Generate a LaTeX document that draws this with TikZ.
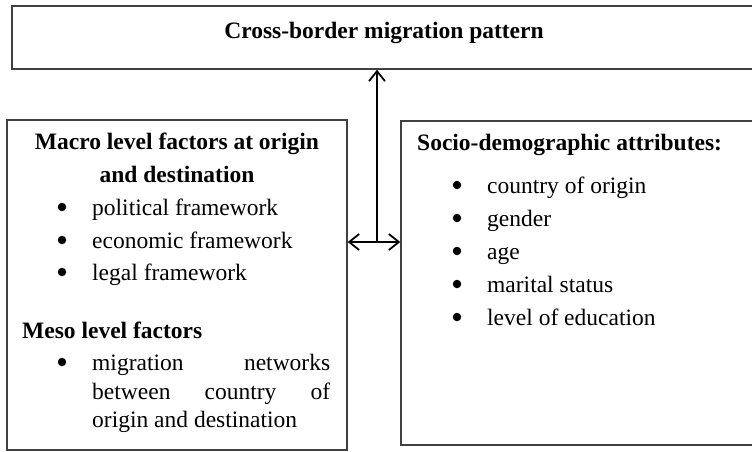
\documentclass[tikz,border=0pt]{standalone}
\usepackage{fontspec}
\setmainfont{Liberation Serif}
\usetikzlibrary{arrows.meta}

\tikzset{
  frame/.style={draw=black!75, line width=1.4pt, minimum width=#1},
  bodytext/.style={inner sep=0pt, anchor=base west, font=\fontsize{23.5}{28}\selectfont},
  headtext/.style={bodytext, font=\fontsize{23.5}{28}\selectfont\bfseries},
  dot/.style={circle, fill=black, inner sep=0pt, minimum size=8.5pt},
  link/.style={line width=1.8pt, black, {Straight Barb[length=10pt,width=16pt,line width=1.8pt]}-{Straight Barb[length=10pt,width=16pt,line width=1.8pt]}},
  uplink/.style={line width=1.8pt, black, -{Straight Barb[length=10pt,width=16pt,line width=1.8pt]}}
}

\begin{document}
\begin{tikzpicture}[x=1pt, y=-1pt]
\useasboundingbox (0,0) rectangle (752,452);
\clip (0,0) rectangle (752,452);
\fill[white] (0,0) rectangle (752,452);

% three frames
\node[frame=748pt, minimum height=63pt, inner sep=0pt] (top) at (386,37.5) {};
\node[frame=340pt, minimum height=330pt, inner sep=0pt] (left) at (177,285) {};
\node[frame=359pt, minimum height=324pt, inner sep=0pt] (right) at (580.5,283) {};

% title
\node[headtext, anchor=base] (title) at (384,39) {Cross-border migration pattern};

% left frame: macro and meso factors
\node[headtext, anchor=base] (macro1) at (177,149) {Macro level factors at origin};
\node[headtext, anchor=base] (macro2) at (177,182) {and destination};
\node[dot] (b1) at (62,207) {};
\node[bodytext] (pol) at (92,215) {political framework};
\node[dot] (b2) at (62,240) {};
\node[bodytext] (eco) at (92,248) {economic framework};
\node[dot] (b3) at (62,272) {};
\node[bodytext] (leg) at (92,280) {legal framework};
\node[headtext] (meso) at (22,338) {Meso level factors};
\node[dot] (b4) at (62,362) {};
\node[bodytext] (net1) at (92,370) {\makebox[238pt][s]{migration\hfill networks}};
\node[bodytext] (net2) at (92,399) {\makebox[238pt][s]{between\hfill country\hfill of}};
\node[bodytext] (net3) at (92,427) {origin and destination};

% right frame: socio-demographic attributes
\node[headtext] (socio) at (417,150) {Socio-demographic attributes:};
\node[dot] (r1) at (457,185) {};
\node[bodytext] (coo) at (487,193) {country of origin};
\node[dot] (r2) at (457,218) {};
\node[bodytext] (gen) at (487,226) {gender};
\node[dot] (r3) at (457,251) {};
\node[bodytext] (age) at (487,259) {age};
\node[dot] (r4) at (457,284) {};
\node[bodytext] (mar) at (487,292) {marital status};
\node[dot] (r5) at (457,317) {};
\node[bodytext] (edu) at (487,325) {level of education};

% connectors
\coordinate (hub) at (377,242);
\draw[uplink] (hub) -- (hub |- top.south);
\draw[link] (left.east |- hub) -- (right.west |- hub);
\end{tikzpicture}
\end{document}
